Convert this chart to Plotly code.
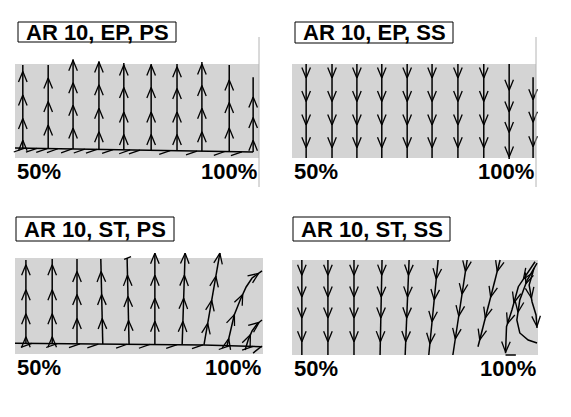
import numpy as np
import plotly.graph_objects as go

W, H = 571, 417

# Surface streamlines on the outer half-span of an AR 10 blade.
# Coordinates: span fraction (0.5 .. 1.0) and chord fraction (0 .. 1).

# ---------------- AR 10, EP, PS ----------------
ep_ps_span = [0.516, 0.568, 0.619, 0.672, 0.723, 0.779, 0.832, 0.883, 0.939, 0.988]
ep_ps_top = [0.99, 0.99, 1.05, 1.03, 1.01, 1.0, 1.0, 1.02, 0.99, 0.86]
ep_ps_heads = [
    [0.92, 0.67, 0.42, 0.19],
    [0.85, 0.60, 0.35],
    [1.04, 0.80, 0.56, 0.32],
    [1.02, 0.78, 0.53, 0.28],
    [0.99, 0.75, 0.49, 0.25],
    [0.99, 0.75, 0.49, 0.25],
    [0.97, 0.74, 0.49, 0.25],
    [1.00, 0.77, 0.53, 0.28],
    [0.83, 0.59, 0.32],
    [0.65, 0.43, 0.19],
]
ep_ps_base_span = [0.5, 0.988]
ep_ps_base_chord = [0.106, 0.064]
ep_ps_base_marks = [0.520, 0.545, 0.566, 0.588, 0.617, 0.643, 0.668, 0.701,
                    0.736, 0.756, 0.818, 0.873, 0.930, 0.965]

# ---------------- AR 10, EP, SS ----------------
ep_ss_span = [0.529, 0.582, 0.633, 0.684, 0.736, 0.787, 0.840, 0.893, 0.945, 0.994]
ep_ss_top = [1.0, 1.0, 1.0, 1.0, 1.0, 1.0, 1.0, 1.0, 1.0, 0.86]
ep_ss_bottom = [0.0, 0.0, 0.0, 0.0, 0.0, 0.0, 0.0, 0.0, -0.01, 0.0]
ep_ss_heads = [[0.85, 0.60, 0.35, 0.11]] * 8 + [
    [0.72, 0.49, 0.27, 0.01],
    [0.62, 0.38, 0.12],
]

# ---------------- AR 10, ST, PS ----------------
st_ps_span_bottom = [0.522, 0.575, 0.625, 0.677, 0.730, 0.782, 0.837, 0.881]
st_ps_span_top = [0.522, 0.575, 0.625, 0.673, 0.726, 0.782, 0.843, 0.913]
st_ps_top = [0.98, 0.99, 0.99, 0.99, 1.0, 1.05, 1.05, 1.05]
st_ps_heads = [
    [0.93, 0.67, 0.42, 0.18],
    [0.93, 0.67, 0.42, 0.18],
    [0.86, 0.62, 0.37],
    [0.86, 0.62, 0.37],
    [0.82, 0.60, 0.35],
    [1.05, 0.82, 0.58, 0.34],
    [1.05, 0.82, 0.58, 0.34],
    [1.05, 0.81, 0.56, 0.32],
]
st_ps_base_span = [0.5, 0.88, 0.998]
st_ps_base_chord = [0.111, 0.095, 0.076]
st_ps_base_marks = [0.534, 0.585, 0.631, 0.668, 0.726, 0.772, 0.827, 0.879, 0.933, 0.980]
# tip-region streamlines curving toward the tip
st_ps_tip1_span = [0.927, 0.935, 0.942, 0.954, 0.966, 0.978, 0.998]
st_ps_tip1_chord = [0.073, 0.25, 0.406, 0.563, 0.698, 0.792, 0.865]
st_ps_tip1_heads = [0.16, 0.41, 0.62, 0.84]
st_ps_tip2_span = [0.964, 0.970, 0.978, 0.988, 0.998]
st_ps_tip2_chord = [0.042, 0.146, 0.240, 0.313, 0.354]
st_ps_tip2_heads = [0.20, 0.33]
# short isolated traces
st_ps_dash_span = [[0.720, 0.734], [0.980, 0.998]]
st_ps_dash_chord = [[0.986, 1.014], [0.01, 0.083]]

# ---------------- AR 10, ST, SS ----------------
st_ss_span_top = [0.520, 0.573, 0.626, 0.683, 0.738, 0.797, 0.856, 0.923]
st_ss_span_bottom = [0.520, 0.573, 0.626, 0.679, 0.730, 0.778, 0.827, 0.878]
st_ss_bottom = [0.0, 0.0, 0.0, 0.0, 0.0, 0.0, 0.0, 0.087]
st_ss_heads = [[0.84, 0.61, 0.39, 0.14]] * 5 + [
    [0.80, 0.58, 0.35, 0.12],
    [0.88, 0.64, 0.41, 0.17],
    [0.88, 0.61, 0.39, 0.16],
]
st_ss_tip1_span = [0.994, 0.960, 0.947, 0.936, 0.934]
st_ss_tip1_chord = [0.982, 0.719, 0.474, 0.298, 0.018]
st_ss_tip1_heads = [0.80, 0.55, 0.33, 0.03]
st_ss_tip2_span = [0.998, 0.978, 0.963, 0.957, 0.963, 0.980, 0.998]
st_ss_tip2_chord = [0.968, 0.789, 0.579, 0.368, 0.232, 0.158, 0.126]
st_ss_tip2_heads = [0.75, 0.45]
st_ss_tip3_span = [0.992, 0.982, 0.988, 0.996, 0.998]
st_ss_tip3_chord = [0.916, 0.737, 0.558, 0.421, 0.284]
st_ss_tip3_heads = [0.60, 0.30]
st_ss_hook_span = [0.934, 0.955]
st_ss_hook_chord = [0.0, 0.0]

titles = ["AR 10, EP, PS", "AR 10, EP, SS", "AR 10, ST, PS", "AR 10, ST, SS"]
span_labels = ["50%", "100%"]

# pixel frame of the shaded plan-form in each panel, the subplot box around it,
# and the title box (left, top, right, bottom)
panels = [
    dict(gL=15, gR=259, gT=64, gB=158, dx=(3, 272), dy=(35, 190),
         box=(18, 22, 176, 42), divider=True),
    dict(gL=292, gR=536, gT=64, gB=158, dx=(280, 560), dy=(35, 190),
         box=(295, 22, 453, 43), divider=True),
    dict(gL=15, gR=263, gT=258, gB=354, dx=(3, 275), dy=(238, 380),
         box=(16, 217, 174, 241), divider=False),
    dict(gL=292, gR=538, gT=260, gB=355, dx=(280, 560), dy=(238, 380),
         box=(293, 217, 450, 241), divider=False),
]

HEAD_L, HEAD_W = 10.5, 4.3  # chevron size, px


def point_at_chord(ss, cc, c):
    for i in range(len(ss) - 1):
        c1, c2 = cc[i], cc[i + 1]
        if min(c1, c2) - 1e-9 <= c <= max(c1, c2) + 1e-9 and c1 != c2:
            t = (c - c1) / (c2 - c1)
            return ss[i] + t * (ss[i + 1] - ss[i]), c, (ss[i + 1] - ss[i], c2 - c1)
    i = 0 if abs(c - cc[0]) < abs(c - cc[-1]) else len(ss) - 2
    return ss[i], c, (ss[i + 1] - ss[i], cc[i + 1] - cc[i])


class Panel:
    def __init__(self, p):
        self.p = p
        self.kx = (p["gR"] - p["gL"]) / 0.5
        self.ky = float(p["gB"] - p["gT"])
        self.lx, self.ly = [], []
        self.hx, self.hy = [], []

    def line(self, ss, cc):
        self.lx += list(ss) + [None]
        self.ly += list(cc) + [None]

    def chevron(self, s, c, d):
        dx, dy = d[0] * self.kx, d[1] * self.ky
        n = np.hypot(dx, dy)
        ux, uy = dx / n, dy / n
        px, py = -uy, ux
        for sign in (1, -1):
            ox = -ux * HEAD_L + sign * px * HEAD_W
            oy = -uy * HEAD_L + sign * py * HEAD_W
            self.hx += [s + ox / self.kx, s, None]
            self.hy += [c + oy / self.ky, c, None]

    def streamline(self, ss, cc, heads):
        self.line(ss, cc)
        for h in heads:
            s, c, d = point_at_chord(ss, cc, h)
            self.chevron(s, c, d)

    def base_mark(self, s, c):
        dx, dy = 11.0, 3.8
        self.hx += [s - dx / self.kx, s, None]
        self.hy += [c - dy / self.ky, c, None]


P = [Panel(p) for p in panels]

# EP, PS
pn = P[0]
pn.line(ep_ps_base_span, ep_ps_base_chord)
for s in ep_ps_base_marks:
    pn.base_mark(s, float(np.interp(s, ep_ps_base_span, ep_ps_base_chord)))
for s, top, hd in zip(ep_ps_span, ep_ps_top, ep_ps_heads):
    c0 = float(np.interp(s, ep_ps_base_span, ep_ps_base_chord))
    pn.streamline([s, s], [c0, top], hd)

# EP, SS
pn = P[1]
for s, top, bot, hd in zip(ep_ss_span, ep_ss_top, ep_ss_bottom, ep_ss_heads):
    pn.streamline([s, s], [top, bot], hd)

# ST, PS
pn = P[2]
pn.line(st_ps_base_span, st_ps_base_chord)
for s in st_ps_base_marks:
    pn.base_mark(s, float(np.interp(s, st_ps_base_span, st_ps_base_chord)))
for sb, st, top, hd in zip(st_ps_span_bottom, st_ps_span_top, st_ps_top, st_ps_heads):
    c0 = float(np.interp(sb, st_ps_base_span, st_ps_base_chord))
    pn.streamline([sb, st], [c0, top], hd)
pn.streamline(st_ps_tip1_span, st_ps_tip1_chord, st_ps_tip1_heads)
pn.streamline(st_ps_tip2_span, st_ps_tip2_chord, st_ps_tip2_heads)
for ss, cc in zip(st_ps_dash_span, st_ps_dash_chord):
    pn.line(ss, cc)

# ST, SS
pn = P[3]
for st, sb, bot, hd in zip(st_ss_span_top, st_ss_span_bottom, st_ss_bottom, st_ss_heads):
    pn.streamline([st, sb], [1.0, bot], hd)
pn.streamline(st_ss_tip1_span, st_ss_tip1_chord, st_ss_tip1_heads)
pn.streamline(st_ss_tip2_span, st_ss_tip2_chord, st_ss_tip2_heads)
pn.streamline(st_ss_tip3_span, st_ss_tip3_chord, st_ss_tip3_heads)
pn.line(st_ss_hook_span, st_ss_hook_chord)

fig = go.Figure()
shapes, annotations = [], []
FONT = "Liberation Sans"

for i, (pn, p) in enumerate(zip(P, panels)):
    k = "" if i == 0 else str(i + 1)
    xa, ya = "x" + k, "y" + k
    xr = [0.5 + (p["dx"][0] - p["gL"]) / pn.kx, 0.5 + (p["dx"][1] - p["gL"]) / pn.kx]
    yr = [(p["gB"] - p["dy"][1]) / pn.ky, (p["gB"] - p["dy"][0]) / pn.ky]
    fig.update_layout({
        "xaxis" + k: dict(domain=[p["dx"][0] / W, p["dx"][1] / W], range=xr,
                          visible=False, anchor=ya),
        "yaxis" + k: dict(domain=[1 - p["dy"][1] / H, 1 - p["dy"][0] / H], range=yr,
                          visible=False, anchor=xa),
    })
    shapes.append(dict(type="rect", xref=xa, yref=ya, x0=0.5, x1=1.0, y0=0, y1=1,
                       fillcolor="#d4d4d4", line=dict(width=0), layer="below"))
    if p["divider"]:
        shapes.append(dict(type="line", xref=xa, yref=ya, x0=1.0, x1=1.0,
                           y0=(p["gB"] - 187) / pn.ky, y1=(p["gB"] - 37) / pn.ky,
                           line=dict(color="#b4b4b4", width=1), layer="above"))
    bl, bt, br, bb = p["box"]
    shapes.append(dict(type="rect", xref="paper", yref="paper",
                       x0=bl / W, x1=br / W, y0=1 - bb / H, y1=1 - bt / H,
                       fillcolor="white", line=dict(color="black", width=1)))
    fig.add_trace(go.Scatter(x=pn.lx, y=pn.ly, xaxis=xa, yaxis=ya, mode="lines",
                             line=dict(color="black", width=1.5), hoverinfo="skip",
                             showlegend=False))
    fig.add_trace(go.Scatter(x=pn.hx, y=pn.hy, xaxis=xa, yaxis=ya, mode="lines",
                             line=dict(color="black", width=1.3), hoverinfo="skip",
                             showlegend=False))
    annotations.append(dict(text="<b>%s</b>" % titles[i], xref="paper", yref="paper",
                            x=(bl + br) / 2 / W, y=1 - ((bt + bb) / 2 + 0.5) / H,
                            xanchor="center", yanchor="middle", showarrow=False,
                            font=dict(family=FONT, size=22, color="black")))
    ylab = (p["gB"] - (p["gB"] + 13)) / pn.ky
    annotations.append(dict(text="<b>%s</b>" % span_labels[0], xref=xa, yref=ya,
                            x=0.5, y=ylab, xanchor="left", yanchor="middle",
                            showarrow=False, font=dict(family=FONT, size=22, color="black")))
    annotations.append(dict(text="<b>%s</b>" % span_labels[1], xref=xa, yref=ya,
                            x=1.0, y=ylab, xanchor="right", yanchor="middle",
                            showarrow=False, font=dict(family=FONT, size=22, color="black")))

fig.update_layout(width=W, height=H, margin=dict(l=0, r=0, t=0, b=0),
                  paper_bgcolor="white", plot_bgcolor="rgba(0,0,0,0)",
                  shapes=shapes, annotations=annotations)
fig.write_html("out.html")
